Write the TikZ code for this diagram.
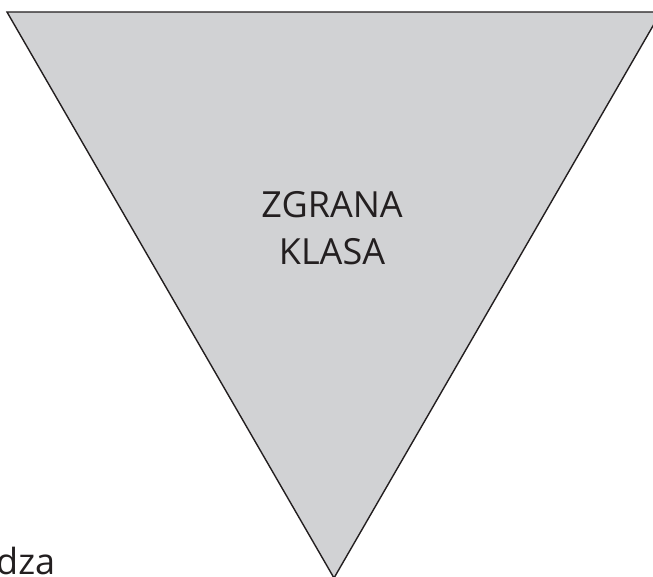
\documentclass[tikz,border=0pt]{standalone}
\usepackage{fontspec}
\setmainfont{Open Sans}
\definecolor{trifill}{RGB}{209,210,212}
\definecolor{inkc}{RGB}{35,31,32}
\tikzset{
  tri/.style={draw=inkc, fill=trifill, line width=1.4pt, line join=miter},
  lbl/.style={text=inkc, font=\fontsize{36}{47}\selectfont, align=center, inner sep=0pt},
}
\begin{document}
\begin{tikzpicture}[x=1pt,y=1pt]
\useasboundingbox (0,0) rectangle (653,576);
\coordinate (tl) at (7,564);
\coordinate (tr) at (661,564);
\coordinate (ap) at (334,-2);
\filldraw[tri] (tl) -- (tr) -- (ap) -- cycle;
\node[lbl, anchor=base] (t1) at (332,358) {ZGRANA};
\node[lbl, anchor=base] (t2) at (332,311) {KLASA};
\node[lbl, anchor=base west] (t3) at (-4,2) {dza};
\end{tikzpicture}
\end{document}
